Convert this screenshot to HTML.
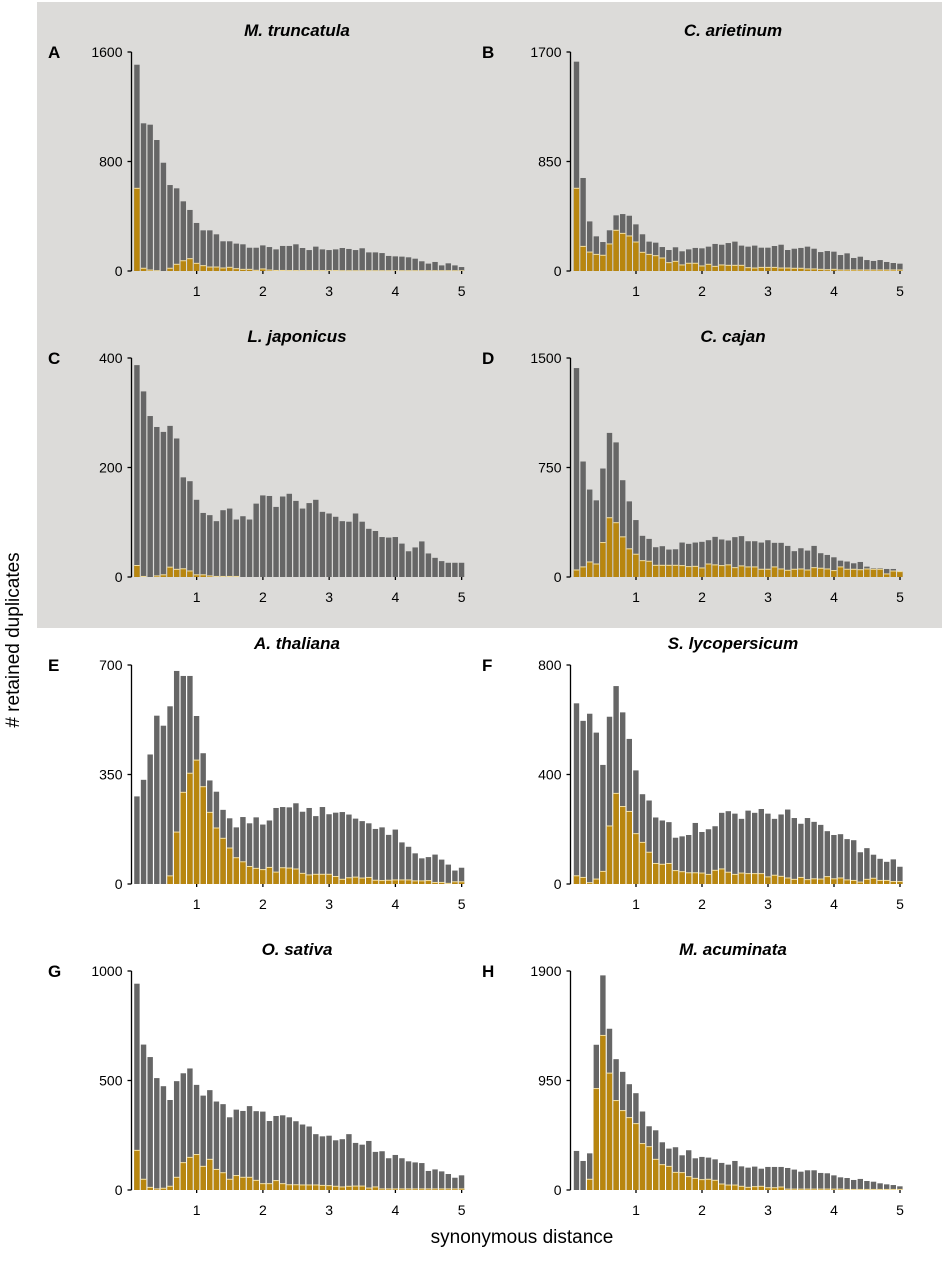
<!DOCTYPE html>
<html><head><meta charset="utf-8"><style>
html,body{margin:0;padding:0;background:#fff;}
svg{display:block;font-family:"Liberation Sans",sans-serif;}
</style></head><body>
<svg id="fig" width="942" height="1280" viewBox="0 0 942 1280">
<rect x="37" y="2" width="905" height="626" fill="#dcdbd9"/>
<text x="14" y="640" font-size="19" text-anchor="middle" transform="rotate(-90 14 640)" dominant-baseline="middle"># retained duplicates</text>
<text x="522" y="1243" font-size="19" text-anchor="middle">synonymous distance</text>
</svg>
<script>
const panelLetters = ["A","B","C","D","E","F","G","H"];
const panelTitles = ["M. truncatula","C. arietinum","L. japonicus","C. cajan","A. thaliana","S. lycopersicum","O. sativa","M. acuminata"];
const yMax = [1600,1700,400,1500,700,800,1000,1900];
const yTickLabels = [["0","800","1600"],["0","850","1700"],["0","200","400"],["0","750","1500"],["0","350","700"],["0","400","800"],["0","500","1000"],["0","950","1900"]];
const xTickLabels = ["1","2","3","4","5"];
const totalA = [1507,1079,1069,957,791,628,604,509,446,351,297,297,268,217,217,200,195,170,170,187,175,158,183,183,195,168,153,178,158,153,158,168,161,153,166,136,136,131,110,107,105,100,90,71,54,66,41,56,41,29];
const wgdA = [604,20,7,2,0,20,49,75,90,56,39,29,29,22,27,17,12,12,5,15,7,4,4,3,3,3,3,3,3,3,3,2,2,2,2,2,2,2,2,2,2,2,2,2,2,2,2,2,2,2];
const totalB = [1625,722,385,269,225,316,432,442,429,362,285,228,220,186,163,184,153,168,179,176,189,210,204,217,228,197,189,197,181,181,194,204,163,173,179,189,173,147,155,150,124,137,101,111,85,78,85,70,62,57];
const wgdB = [642,191,147,129,122,210,316,292,272,225,145,129,119,101,65,75,47,60,60,39,52,36,47,44,44,44,26,23,28,28,28,23,23,21,21,16,16,13,10,13,8,8,8,8,8,8,8,8,8,8];
const totalC = [387,339,294,274,265,276,253,182,175,141,117,113,102,122,125,105,111,105,134,149,148,128,147,152,139,125,135,141,119,116,110,102,101,116,101,88,84,73,72,73,61,47,54,65,43,35,29,26,26,26];
const wgdC = [21,1,0,2,4,18,14,15,11,4,4,2,1,1,1,1,0,0,0,0,0,0,0,0,0,0,0,0,0,0,0,0,0,0,0,0,0,0,0,0,0,0,0,0,0,0,0,0,0,0];
const totalD = [1431,791,599,525,743,987,922,663,518,390,282,261,204,211,188,190,236,227,236,241,252,275,257,250,273,280,245,245,236,252,234,234,213,177,197,181,213,163,151,135,112,106,94,103,71,60,60,55,55,39];
const wgdD = [48,69,103,89,236,406,372,275,193,156,112,108,80,80,80,80,78,71,73,62,89,83,78,83,64,76,69,69,53,53,69,55,46,53,55,48,64,60,55,44,69,53,53,50,55,53,53,21,41,37];
const totalE = [280,333,414,538,506,568,681,665,665,537,418,331,295,237,210,181,214,194,213,190,203,243,246,245,258,231,243,217,246,223,228,230,222,209,201,194,176,181,157,174,133,119,98,82,86,94,78,62,43,52];
const wgdE = [0,0,0,0,0,26,166,293,354,396,311,229,179,146,115,84,71,56,50,46,53,38,52,51,48,34,29,31,31,31,24,15,20,22,19,21,12,11,12,13,13,13,10,10,11,5,5,2,7,7];
const totalF = [660,596,622,553,435,611,723,627,530,415,328,305,243,232,226,169,174,179,223,190,200,211,260,266,257,238,268,260,274,257,238,254,272,241,220,241,227,216,193,179,182,164,160,116,131,107,92,81,90,63];
const wgdF = [30,24,5,18,46,212,331,283,265,184,152,116,75,72,75,49,45,41,41,40,35,50,55,43,35,40,38,38,38,26,32,28,22,17,24,16,19,18,27,19,22,15,13,7,17,21,13,13,9,9];
const totalG = [942,664,607,511,474,411,497,533,555,480,431,456,404,392,332,367,361,383,360,358,315,338,341,332,314,299,290,255,245,248,227,232,255,215,207,224,174,177,145,160,145,131,126,123,87,94,85,73,56,67];
const wgdG = [181,49,12,5,8,17,58,125,149,162,108,140,94,79,49,66,58,58,44,29,29,43,29,24,24,23,23,23,21,20,17,14,17,18,18,9,14,5,5,5,5,5,5,5,5,5,5,5,5,5];
const totalH = [339,252,318,1260,1862,1399,1135,1025,918,840,681,553,518,414,359,371,301,345,275,287,281,266,235,220,252,205,194,203,185,200,200,200,191,177,159,171,171,148,145,127,110,104,87,96,78,72,58,49,43,32];
const wgdH = [0,0,93,880,1341,1014,776,689,628,576,403,376,266,220,205,153,151,116,101,90,93,84,52,43,43,32,23,29,32,20,20,26,8,8,8,8,8,8,8,8,8,5,5,5,5,5,5,5,5,5];
const totals = [totalA,totalB,totalC,totalD,totalE,totalF,totalG,totalH];
const wgds = [wgdA,wgdB,wgdC,wgdD,wgdE,wgdF,wgdG,wgdH];

const NS = "http://www.w3.org/2000/svg";
const svg = document.getElementById("fig");
function mk(tag, attrs, parent){const e=document.createElementNS(NS,tag);for(const k in attrs)e.setAttribute(k,attrs[k]);(parent||svg).appendChild(e);return e;}
const baselines=[271,577,884,1190];
const H=219;
for(let p=0;p<8;p++){
  const col=p%2,row=Math.floor(p/2);
  const x0=col===0?130.4:570;
  const ppu=col===0?66.25:66;
  const base=baselines[row];
  const xs=v=>x0+v*ppu;
  const ys=v=>base-v/yMax[p]*H;
  const g=mk("g",{});
  
  
  const letter=mk("text",{x:col===0?48:482,y:base-219+6,"font-size":17,"font-weight":"bold"},g);
  letter.textContent=panelLetters[p];
  
  
  const title=mk("text",{x:col===0?297:733,y:base-235,"font-size":17,"font-weight":"bold","font-style":"italic","text-anchor":"middle"},g);
  title.textContent=panelTitles[p];
  
  
  const bw=0.1*ppu;
  for(let i=0;i<totals[p].length;i++){
    const c=(i+1)*0.1;
    const left=xs(c)-bw/2+0.5;
    const tv=totals[p][i],ov=wgds[p][i];
    const b=mk("rect",{x:left,y:ys(tv),width:bw-1.2,height:base-ys(tv),fill:"#666666"},g);
    
    
    if(ov>0){
      const o=mk("rect",{x:left,y:ys(ov),width:bw-1.2,height:base-ys(ov),fill:"#b8860f"},g);
      
      
      const l=mk("rect",{x:left,y:ys(ov)-0.5,width:bw-1.2,height:1,fill:"#f3dfa0"},g);
      
      
    }
  }
  const axX=col===0?131.5:570.5;
  const ax=mk("line",{x1:axX,y1:base-H,x2:axX,y2:base,stroke:"#000","stroke-width":1.3},g);
  
  
  for(let k=0;k<3;k++){
    const v=yMax[p]*k/2,y=ys(v);
    mk("line",{x1:axX-4,y1:y,x2:axX,y2:y,stroke:"#000","stroke-width":1.3},g);
    const t=mk("text",{x:axX-9,y:y+5,"font-size":14,"text-anchor":"end"},g);
    t.textContent=yTickLabels[p][k];
    
    
  }
  for(let k=0;k<5;k++){
    const x=xs(k+1);
    mk("line",{x1:x,y1:base,x2:x,y2:base+3,stroke:"#000","stroke-width":1.3},g);
    const t=mk("text",{x:x,y:base+25,"font-size":14,"text-anchor":"middle"},g);
    t.textContent=xTickLabels[k];
    
    
  }
}
</script>
</body></html>
